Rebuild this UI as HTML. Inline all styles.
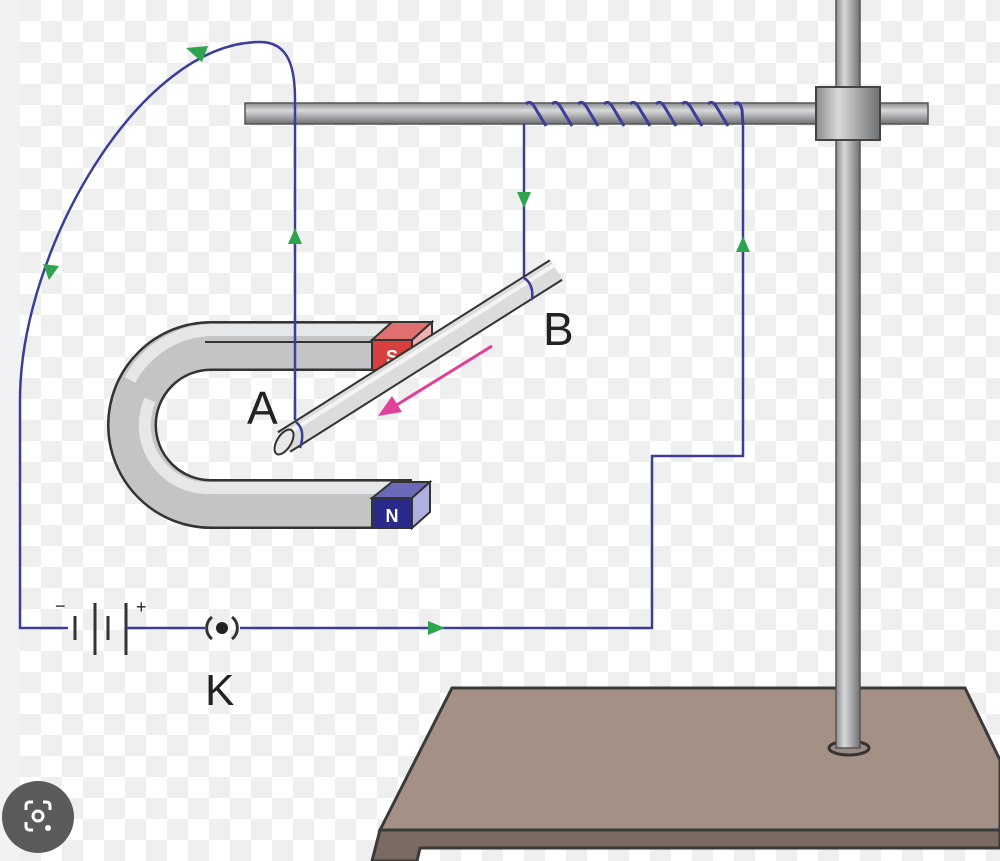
<!DOCTYPE html>
<html><head><meta charset="utf-8"><style>
html,body{margin:0;padding:0;width:1000px;height:861px;overflow:hidden;background:#fff}
</style></head><body>
<svg width="1000" height="861" viewBox="0 0 1000 861" xmlns="http://www.w3.org/2000/svg" font-family="Liberation Sans, sans-serif">
<defs>
<pattern id="chk" x="20" y="0" width="42" height="42" patternUnits="userSpaceOnUse">
<rect width="42" height="42" fill="#ffffff"/>
<rect width="21" height="21" fill="#efefef"/>
<rect x="21" y="21" width="21" height="21" fill="#efefef"/>
</pattern>
<linearGradient id="hrod" x1="0" y1="0" x2="0" y2="1">
<stop offset="0" stop-color="#8a8b8d"/><stop offset="0.35" stop-color="#d8d9db"/><stop offset="1" stop-color="#6f7072"/>
</linearGradient>
<linearGradient id="vrod" x1="0" y1="0" x2="1" y2="0">
<stop offset="0" stop-color="#8a8b8d"/><stop offset="0.35" stop-color="#d8d9db"/><stop offset="1" stop-color="#6f7072"/>
</linearGradient>
</defs>
<rect width="1000" height="861" fill="url(#chk)"/>
<rect width="20" height="861" fill="#f1f2f4"/>

<path d="M452,688 L965,688 L1000,760 L1000,830 L380,830 Z" fill="#a59086" stroke="#3a3a3a" stroke-width="3"/>
<path d="M380,830 L1000,830 L1000,848 L420,848 L417,861 L372,861 Z" fill="#7a6a62" stroke="#3a3a3a" stroke-width="3"/>
<ellipse cx="849" cy="748" rx="20" ry="7" fill="#9a8a82" stroke="#333" stroke-width="3"/>

<rect x="836" y="-2" width="24" height="750" fill="url(#vrod)" stroke="#555" stroke-width="1.5"/>
<rect x="245" y="103" width="683" height="21" fill="url(#hrod)" stroke="#555" stroke-width="1.5"/>
<rect x="816" y="87" width="64" height="53" fill="url(#vrod)" stroke="#444" stroke-width="2"/>

<path d="M526,104 Q530,100 534,106 L546,126 M552,104 Q556,100 560,106 L572,126 M578,104 Q582,100 586,106 L598,126 M604,104 Q608,100 612,106 L624,126 M630,104 Q634,100 638,106 L650,126 M656,104 Q660,100 664,106 L676,126 M682,104 Q686,100 690,106 L702,126 M708,104 Q712,100 716,106 L728,126 M734,104 Q740,100 742,110 L743,125" fill="none" stroke="#3a3d9a" stroke-width="3"/>

<path d="M412,346 L211,346 A79,79 0 0 0 211,504 L412,504" fill="none" stroke="#333" stroke-width="50"/>
<path d="M412,346 L211,346 A79,79 0 0 0 211,504 L412,504" fill="none" stroke="#c3c4c6" stroke-width="45"/>
<path d="M412,330 L211,330 A95,95 0 0 0 130,380" fill="none" stroke="#e6e7e8" stroke-width="12"/>
<line x1="205" y1="342" x2="412" y2="342" stroke="#333" stroke-width="2"/>
<path d="M412,488 L211,488 A63,63 0 0 1 150,400" fill="none" stroke="#e6e7e8" stroke-width="12"/>
<path d="M372,340 L392,322 L432,322 L412,340 Z" fill="#e07070" stroke="#333" stroke-width="2"/>
<path d="M412,340 L432,322 L432,352 L412,370 Z" fill="#f0b0b0" stroke="#333" stroke-width="2"/>
<rect x="372" y="340" width="40" height="30" fill="#d84040" stroke="#333" stroke-width="2"/>
<text x="392" y="363" font-size="18" font-weight="bold" fill="#fff" text-anchor="middle">S</text>
<path d="M372,498 L392,482 L430,482 L412,498 Z" fill="#6a6ab8" stroke="#333" stroke-width="2"/>
<path d="M412,498 L430,482 L430,512 L412,528 Z" fill="#b0b0e0" stroke="#333" stroke-width="2"/>
<rect x="372" y="498" width="40" height="30" fill="#2a2a8a" stroke="#333" stroke-width="2"/>
<text x="392" y="522" font-size="18" font-weight="bold" fill="#fff" text-anchor="middle">N</text>

<g fill="none" stroke="#3a3d9a" stroke-width="2.5">
<path d="M524,124 L524,280"/>
<path d="M743,124 L743,456 L652,456 L652,628 L240,628"/>
<path d="M205,628 L140,628"/>
<path d="M68,628 L20,628 L20,400 C20,250 140,42 260,42 C290,42 295,70 295,100 L295,420"/>
</g>
<g fill="#2ea44f">
<path d="M517,192 L531,192 L524,208 Z"/>
<path d="M736,252 L750,252 L743,236 Z"/>
<path d="M288,244 L302,244 L295,228 Z"/>
<path d="M428,621 L428,635 L445,628 Z"/>
<path d="M43,264 L59,266 L49,280 Z"/>
<path d="M186,48 L202,62 L208,46 Z"/>
</g>

<line x1="284" y1="442" x2="556" y2="270" stroke="#333" stroke-width="25"/>
<line x1="284" y1="442" x2="556" y2="270" stroke="#dcdcdd" stroke-width="21"/>
<line x1="290" y1="432" x2="556" y2="264" stroke="#f4f4f4" stroke-width="4"/>
<ellipse cx="284" cy="442" rx="7" ry="14" transform="rotate(32 284 442)" fill="#e8e8e8" stroke="#333" stroke-width="2"/>
<path d="M296,422 Q306,430 300,448" fill="none" stroke="#3a3d9a" stroke-width="2.5"/>
<path d="M524,278 Q534,284 532,300" fill="none" stroke="#3a3d9a" stroke-width="2.5"/>

<line x1="492" y1="346" x2="395" y2="406" stroke="#e0409a" stroke-width="3"/>
<path d="M378,416 L392,396 L402,412 Z" fill="#e0409a"/>

<text x="247" y="424" font-size="46" fill="#222">A</text>
<text x="543" y="345" font-size="46" fill="#222">B</text>

<g stroke="#333" stroke-width="3">
<line x1="75" y1="616" x2="75" y2="640"/>
<line x1="95" y1="603" x2="95" y2="655"/>
<line x1="108" y1="616" x2="108" y2="640"/>
<line x1="126" y1="603" x2="126" y2="655"/>
</g>
<line x1="126" y1="628" x2="140" y2="628" stroke="#3a3d9a" stroke-width="2.5"/>
<text x="55" y="612" font-size="18" fill="#222">−</text>
<text x="136" y="613" font-size="18" fill="#222">+</text>
<path d="M212,617 A14,14 0 0 0 212,639 M232,617 A14,14 0 0 1 232,639" fill="none" stroke="#333" stroke-width="3"/>
<circle cx="222" cy="628" r="6" fill="#222"/>
<text x="205" y="705" font-size="44" fill="#222">K</text>

<circle cx="38" cy="817" r="36" fill="#5a5a5a"/>
<path d="M26,810 L26,806 Q26,802 30,802 L33,802 M43,802 L46,802 Q50,802 50,806 L50,810 M26,822 L26,826 Q26,830 30,830 L33,830" fill="none" stroke="#fff" stroke-width="3"/>
<circle cx="38" cy="816" r="5" fill="none" stroke="#fff" stroke-width="3"/>
<circle cx="48" cy="828" r="3" fill="#fff"/>
</svg>
</body></html>
